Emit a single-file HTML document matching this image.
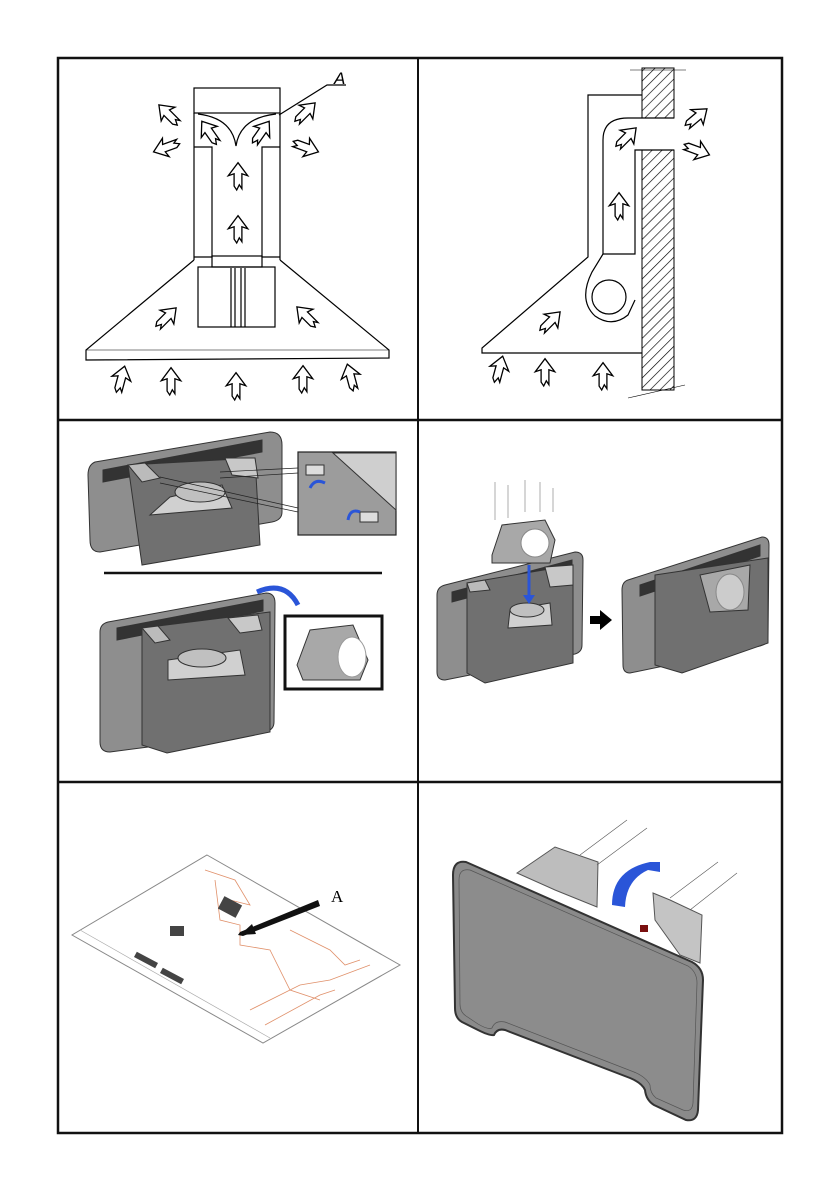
<!DOCTYPE html>
<html><head><meta charset="utf-8"><style>
html,body{margin:0;padding:0;background:#fff;}
svg{display:block;}
</style></head><body>
<svg width="840" height="1192" viewBox="0 0 840 1192" xmlns="http://www.w3.org/2000/svg">
<defs>
<polygon id="ar" points="0,-11 7.5,-1 3,-2.5 3,9 1,6 -1,10 -3,7 -3,-2.5 -7.5,-1" fill="#fff" stroke="#000" stroke-width="1" stroke-linejoin="miter" transform="scale(1.3)"/>
<pattern id="hatch" width="7" height="7" patternUnits="userSpaceOnUse" patternTransform="rotate(45)">
<rect width="7" height="7" fill="#fff"/><line x1="0" y1="0" x2="0" y2="7" stroke="#000" stroke-width="1.3"/>
</pattern>
</defs>

<!-- frame -->
<rect x="58" y="58" width="724" height="1075" fill="none" stroke="#111" stroke-width="2.5"/>
<line x1="418" y1="58" x2="418" y2="1133" stroke="#111" stroke-width="2"/>
<line x1="58" y1="420" x2="782" y2="420" stroke="#111" stroke-width="2.5"/>
<line x1="58" y1="782" x2="782" y2="782" stroke="#111" stroke-width="2.5"/>

<!-- Panel 1 -->
<g fill="none" stroke="#000" stroke-width="1.2">
<rect x="194" y="88" width="86" height="25"/>
<line x1="194" y1="113" x2="194" y2="260"/>
<line x1="280" y1="113" x2="280" y2="260"/>
<path d="M198,114 Q232,118 236,146 Q240,118 276,114"/>
<polyline points="194,147 212,147 212,257 194,257"/>
<polyline points="280,147 262,147 262,257 280,257"/>
<rect x="212" y="256" width="50" height="11"/>
<rect x="198" y="267" width="77" height="60"/>
<line x1="231" y1="268" x2="231" y2="327"/><line x1="235" y1="268" x2="235" y2="327"/>
<line x1="241" y1="268" x2="241" y2="327"/><line x1="245" y1="268" x2="245" y2="327"/>
<polyline points="194,260 86,350 86,360 389,358 389,350 280,260"/>
<line x1="86" y1="350" x2="389" y2="350" stroke-width="0.6"/>
<polyline points="279,115 327,85 346,85"/>
</g>
<text x="334" y="84" font-family="Liberation Sans, sans-serif" font-style="italic" font-size="17" fill="#000">A</text>
<use href="#ar" transform="translate(169,115) rotate(-45)"/>
<use href="#ar" transform="translate(167,147) rotate(-110)"/>
<use href="#ar" transform="translate(210,133) rotate(-35)"/>
<use href="#ar" transform="translate(261,133) rotate(35)"/>
<use href="#ar" transform="translate(305,113) rotate(45)"/>
<use href="#ar" transform="translate(305,147) rotate(110)"/>
<use href="#ar" transform="translate(238,177)"/>
<use href="#ar" transform="translate(238,230)"/>
<use href="#ar" transform="translate(166,318) rotate(45)"/>
<use href="#ar" transform="translate(307,317) rotate(-45)"/>
<use href="#ar" transform="translate(121,380) rotate(15)"/>
<use href="#ar" transform="translate(171,382)"/>
<use href="#ar" transform="translate(236,387)"/>
<use href="#ar" transform="translate(303,380)"/>
<use href="#ar" transform="translate(351,378) rotate(-15)"/>

<!-- Panel 2 -->
<rect x="642" y="68" width="32" height="50" fill="url(#hatch)" stroke="#000" stroke-width="1"/>
<rect x="642" y="150" width="32" height="240" fill="url(#hatch)" stroke="#000" stroke-width="1"/>
<g fill="none" stroke="#000" stroke-width="1.2">
<line x1="630" y1="70" x2="686" y2="70" stroke-width="0.6"/>
<line x1="628" y1="398" x2="685" y2="385" stroke-width="0.6"/>
<polyline points="642,95 588,95 588,257 482,348 482,353 642,353"/>
<path d="M603,254 L603,140 Q603,118 628,118 L674,118"/>
<polyline points="674,150 635,150 635,254 603,254"/>
<path d="M603,254 L592,272 Q578,300 595,316 Q612,328 628,315 L635,300"/>
<circle cx="609" cy="297" r="17"/>
</g>
<use href="#ar" transform="translate(626,138) rotate(45)"/>
<use href="#ar" transform="translate(696,118) rotate(50)"/>
<use href="#ar" transform="translate(696,150) rotate(110)"/>
<use href="#ar" transform="translate(619,207)"/>
<use href="#ar" transform="translate(550,322) rotate(45)"/>
<use href="#ar" transform="translate(499,370) rotate(15)"/>
<use href="#ar" transform="translate(545,373)"/>
<use href="#ar" transform="translate(603,377)"/>

<!-- Panel 3 top -->
<g stroke="#333" stroke-width="1">
<path d="M95,462 L270,432 Q282,432 282,445 L282,512 Q282,520 272,522 L100,552 Q90,552 90,540 L88,475 Q88,465 95,462Z" fill="#8e8e8e"/>
<polygon points="103,470 262,440 262,452 103,482" fill="#333"/>
<polygon points="128,465 255,458 260,545 142,565" fill="#707070"/>
<polygon points="128,465 145,463 160,478 142,482" fill="#bbb"/>
<polygon points="225,458 255,458 258,478 232,475" fill="#c8c8c8"/>
<polygon points="170,497 222,485 232,508 150,515" fill="#d0d0d0"/>
<ellipse cx="200" cy="492" rx="25" ry="10" fill="#c0c0c0"/>
<rect x="298" y="452" width="98" height="83" fill="#9c9c9c" stroke="#222" stroke-width="1.2"/>
<polygon points="333,453 396,453 396,510" fill="#cfcfcf"/>
<rect x="306" y="465" width="18" height="10" fill="#ddd"/>
<rect x="360" y="512" width="18" height="10" fill="#ddd"/>
</g>
<g stroke="#222" stroke-width="0.7" fill="none">
<line x1="220" y1="472" x2="298" y2="468"/><line x1="220" y1="478" x2="298" y2="473"/>
<line x1="160" y1="477" x2="298" y2="508"/><line x1="160" y1="483" x2="298" y2="512"/>
</g>
<path d="M325,483 Q315,478 310,488" stroke="#2a55d8" stroke-width="3" fill="none"/>
<path d="M360,512 Q350,508 348,520" stroke="#2a55d8" stroke-width="3" fill="none"/>
<line x1="104" y1="573" x2="382" y2="573" stroke="#111" stroke-width="2.5"/>

<!-- Panel 3 bottom -->
<g stroke="#333" stroke-width="1">
<path d="M108,622 L266,593 Q275,593 275,603 L274,722 Q274,730 265,732 L110,752 Q100,752 100,742 L100,632 Q100,624 108,622Z" fill="#8e8e8e"/>
<polygon points="117,628 263,600 263,611 117,640" fill="#333"/>
<polygon points="142,628 270,612 270,732 167,753 142,745" fill="#707070"/>
<polygon points="142,628 158,626 170,640 155,643" fill="#bbb"/>
<polygon points="228,618 258,615 262,630 240,633" fill="#c8c8c8"/>
<polygon points="168,660 240,650 245,675 168,680" fill="#d0d0d0"/>
<ellipse cx="202" cy="658" rx="24" ry="9" fill="#c0c0c0"/>
<rect x="285" y="616" width="97" height="73" fill="#fff" stroke="#111" stroke-width="3"/>
<polygon points="297,665 310,630 353,625 368,660 360,680 303,680" fill="#a8a8a8"/>
<ellipse cx="352" cy="657" rx="14" ry="20" fill="#fff" stroke="#999"/>
</g>
<path d="M257,592 Q285,580 298,605" stroke="#2a55d8" stroke-width="5" fill="none"/>

<!-- Panel 4 -->
<g stroke="#333" stroke-width="1">
<path d="M445,585 L575,552 Q583,552 583,560 L582,645 Q582,652 575,654 L445,680 Q437,680 437,672 L437,595 Q437,587 445,585Z" fill="#8e8e8e"/>
<polygon points="452,592 572,560 572,570 452,602" fill="#333"/>
<polygon points="467,583 573,565 573,663 485,683 467,673" fill="#707070"/>
<polygon points="467,583 485,580 490,590 470,592" fill="#bbb"/>
<polygon points="545,567 573,565 573,585 550,587" fill="#c8c8c8"/>
<polygon points="510,610 550,603 552,625 508,628" fill="#d0d0d0"/>
<ellipse cx="527" cy="610" rx="17" ry="7" fill="#c0c0c0"/>
<polygon points="492,555 502,525 545,520 555,540 550,563 492,563" fill="#a8a8a8"/>
<circle cx="535" cy="543" r="14" fill="#fff" stroke="#888"/>
<path d="M628,580 L762,537 Q769,537 769,545 L768,638 Q768,644 760,646 L630,673 Q623,673 623,665 L622,590 Q622,582 628,580Z" fill="#8e8e8e"/>
<polygon points="640,585 760,545 760,556 640,596" fill="#333"/>
<polygon points="655,575 768,558 768,643 682,673 655,665" fill="#707070"/>
<polygon points="700,575 750,565 748,610 710,612" fill="#a8a8a8"/>
<ellipse cx="730" cy="592" rx="14" ry="18" fill="#ccc" stroke="#888"/>
</g>
<g stroke="#777" stroke-width="0.6">
<line x1="495" y1="520" x2="495" y2="482"/><line x1="508" y1="518" x2="508" y2="485"/><line x1="525" y1="512" x2="525" y2="480"/><line x1="540" y1="512" x2="540" y2="482"/><line x1="553" y1="512" x2="553" y2="488"/>
</g>
<line x1="529" y1="565" x2="529" y2="598" stroke="#2a55d8" stroke-width="3"/>
<polygon points="523,595 535,595 529,604" fill="#2a55d8"/>
<polygon points="590,616 600,616 600,610 612,620 600,630 600,624 590,624" fill="#000"/>

<!-- Panel 5 -->
<polygon points="207,855 400,965 263,1043 72,935" fill="#fff" stroke="#888" stroke-width="1"/>
<line x1="80" y1="930" x2="270" y2="1038" stroke="#aaa" stroke-width="0.7"/>
<g stroke="#e0906a" stroke-width="0.8" fill="none">
<polyline points="205,870 235,880 250,905 230,900"/>
<polyline points="215,880 220,920 240,925 240,945 270,950 290,990 320,1000"/>
<polyline points="290,930 330,950 345,965 360,960"/>
<polyline points="250,1010 300,985 330,980 370,965"/>
<polyline points="265,1025 320,995 335,990"/>
</g>
<g fill="#444">
<rect x="170" y="926" width="14" height="10"/><rect x="134" y="957" width="24" height="6" transform="rotate(28 146 960)"/><rect x="160" y="973" width="24" height="6" transform="rotate(28 172 976)"/>
<rect x="220" y="900" width="20" height="14" transform="rotate(28 230 907)"/>
</g>
<polygon points="318,900 240,932 238,935 243,936 320,906" fill="#111"/>
<polygon points="240,935 252,924 256,934" fill="#111"/>
<text x="331" y="902" font-family="Liberation Serif, serif" font-size="17" fill="#000">A</text>

<!-- Panel 6 -->
<g stroke="#555" stroke-width="1">
<polygon points="517,873 555,847 598,862 597,907 555,890" fill="#bdbdbd"/>
<polygon points="653,893 670,900 702,915 700,963 680,955 655,920" fill="#c4c4c4"/>
</g>
<g stroke="#555" stroke-width="0.6">
<line x1="580" y1="855" x2="627" y2="820"/><line x1="597" y1="865" x2="647" y2="828"/>
<line x1="670" y1="898" x2="718" y2="862"/><line x1="690" y1="910" x2="737" y2="873"/>
</g>
<path d="M466,862 L692,962 Q703,968 703,980 L698,1110 Q697,1122 686,1120 L654,1105 Q646,1100 645,1090 Q642,1083 630,1078 L505,1030 Q497,1028 494,1035 Q490,1036 478,1030 L462,1022 Q455,1018 455,1008 L453,875 Q453,860 466,862Z" fill="#8a8a8a" stroke="#333" stroke-width="2"/>
<path d="M470,870 L688,966 Q697,972 697,983 L693,1103 Q692,1113 683,1110 L656,1098 Q650,1093 650,1085 Q646,1077 634,1072 L505,1022 Q495,1020 492,1028 Q488,1030 478,1024 L466,1016 Q460,1012 460,1004 L459,880 Q459,868 470,870Z" fill="#8c8c8c" stroke="#555" stroke-width="0.7"/>
<path d="M612,905 Q612,870 650,862 L660,862 L660,872 L648,870 Q626,880 625,907Z" fill="#2a55d8"/>
<rect x="640" y="925" width="8" height="7" fill="#7a1010"/>
</svg>
</body></html>
